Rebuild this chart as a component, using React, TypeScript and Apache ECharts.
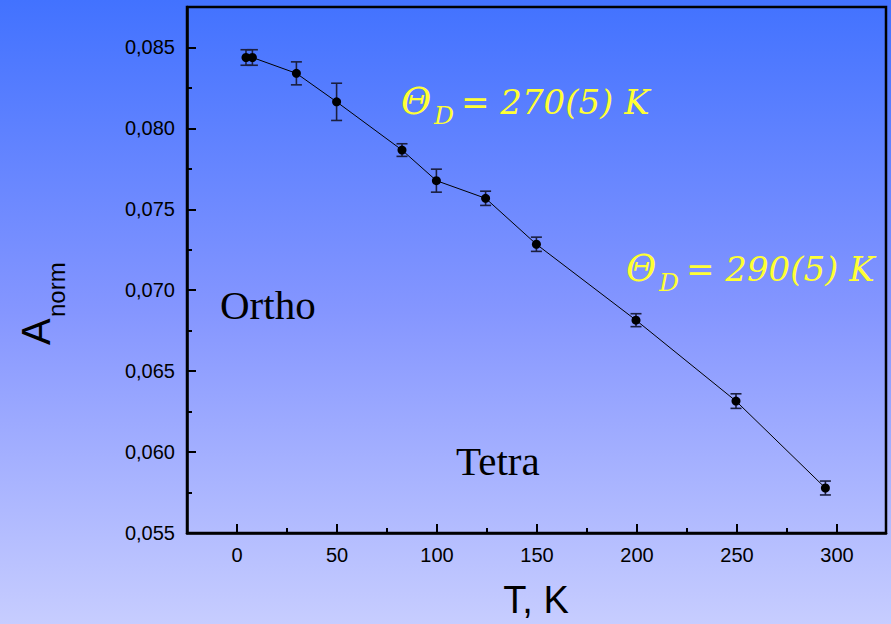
import React, { useEffect, useRef } from "react";
import * as echarts from "echarts";

// Temperature (K), normalised amplitude and its uncertainty
const temps = [4.5, 7.7, 29.7, 49.8, 82.5, 99.7, 124.3, 149.7, 199.5, 249.5, 294.2];
const aNorm = [0.08438, 0.08438, 0.0834, 0.08164, 0.07866, 0.07677, 0.07568, 0.07284, 0.06815, 0.06315, 0.05778];
const aErr = [0.00048, 0.00048, 0.00071, 0.00115, 0.00039, 0.00071, 0.00044, 0.00044, 0.0004, 0.00045, 0.00043];

const xMajor = [0, 50, 100, 150, 200, 250, 300];
const xMinor = [25, 75, 125, 175, 225, 275];
const yMajor = [0.055, 0.06, 0.065, 0.07, 0.075, 0.08, 0.085];
const yMinor = [0.0575, 0.0625, 0.0675, 0.0725, 0.0775, 0.0825];

const SANS = "Liberation Sans";
const SERIF = "Liberation Serif";
const ITALIC_SERIF = "DejaVu Serif";
const YELLOW = "#ffff33";

export default function App() {
  const ref = useRef<HTMLDivElement>(null);

  useEffect(() => {
    if (!ref.current) return;
    const chart = echarts.init(ref.current, undefined, { renderer: "svg" });

    const points = temps.map((t, i) => [t, aNorm[i]]);
    const bars = temps.map((t, i) => [t, aNorm[i] - aErr[i], aNorm[i] + aErr[i]]);

    const xBase = { type: "value", min: -25, max: 324.5, gridIndex: 0 };
    const yBase = { type: "value", min: 0.055, max: 0.0875, gridIndex: 0 };

    const italic = (size: number) => ({
      fontFamily: ITALIC_SERIF,
      fontStyle: "italic",
      fontSize: size,
      fill: YELLOW,
      textVerticalAlign: "bottom",
    });

    // Debye temperature annotation: Θ with subscript D, then the value
    const theta = (x: number, y: number, value: string) => ({
      type: "group",
      children: [
        { type: "text", x, y: y + 1, style: { text: "\u0398", ...italic(37) } },
        { type: "text", x: x + 33, y: y + 9, style: { text: "D", ...italic(25) } },
        { type: "text", x: x + 60, y, style: { text: value, ...italic(34) } },
      ],
    });

    chart.setOption({
      animation: false,
      backgroundColor: "transparent",
      grid: {
        left: 187,
        top: 7,
        right: 5,
        bottom: 91,
        show: true,
        borderColor: "#000",
        borderWidth: 2.5,
        backgroundColor: "transparent",
      },
      xAxis: [
        {
          ...xBase,
          axisLine: { show: true, onZero: false, lineStyle: { color: "#000", width: 2.5 } },
          axisTick: {
            show: true,
            inside: true,
            length: 9,
            customValues: xMajor,
            lineStyle: { color: "#000", width: 2 },
          },
          axisLabel: {
            customValues: xMajor,
            color: "#000",
            fontFamily: SANS,
            fontSize: 20,
            margin: 12,
          },
          splitLine: { show: false },
        },
        {
          ...xBase,
          position: "bottom",
          axisLine: { show: false, onZero: false },
          axisTick: {
            show: true,
            inside: true,
            length: 5,
            customValues: xMinor,
            lineStyle: { color: "#000", width: 2 },
          },
          axisLabel: { show: false },
          splitLine: { show: false },
        },
      ],
      yAxis: [
        {
          ...yBase,
          axisLine: { show: true, onZero: false, lineStyle: { color: "#000", width: 2.5 } },
          axisTick: {
            show: true,
            inside: true,
            length: 9,
            customValues: yMajor,
            lineStyle: { color: "#000", width: 2 },
          },
          axisLabel: {
            customValues: yMajor,
            color: "#000",
            fontFamily: SANS,
            fontSize: 20,
            margin: 12,
            formatter: (v: number) => v.toFixed(3).replace(".", ","),
          },
          splitLine: { show: false },
        },
        {
          ...yBase,
          position: "left",
          axisLine: { show: false, onZero: false },
          axisTick: {
            show: true,
            inside: true,
            length: 5,
            customValues: yMinor,
            lineStyle: { color: "#000", width: 2 },
          },
          axisLabel: { show: false },
          splitLine: { show: false },
        },
      ],
      series: [
        {
          type: "custom",
          xAxisIndex: 0,
          yAxisIndex: 0,
          data: bars,
          z: 2,
          renderItem: (_params: any, api: any) => {
            const x = api.value(0);
            const lo = api.coord([x, api.value(1)]);
            const hi = api.coord([x, api.value(2)]);
            const half = 5.5;
            const style = { stroke: "#1b1f3f", lineWidth: 1.6 };
            return {
              type: "group",
              children: [
                { type: "line", shape: { x1: lo[0], y1: lo[1], x2: hi[0], y2: hi[1] }, style },
                { type: "line", shape: { x1: lo[0] - half, y1: lo[1], x2: lo[0] + half, y2: lo[1] }, style },
                { type: "line", shape: { x1: hi[0] - half, y1: hi[1], x2: hi[0] + half, y2: hi[1] }, style },
              ],
            };
          },
        },
        {
          type: "line",
          xAxisIndex: 0,
          yAxisIndex: 0,
          data: points,
          z: 3,
          symbol: "circle",
          symbolSize: 9,
          itemStyle: { color: "#000" },
          lineStyle: { color: "#000", width: 1 },
        },
      ],
      graphic: [
        {
          type: "text",
          x: 220,
          y: 325,
          style: {
            text: "Ortho",
            fontFamily: SERIF,
            fontSize: 41,
            fill: "#000",
            textVerticalAlign: "bottom",
          },
        },
        {
          type: "text",
          x: 456,
          y: 481,
          style: {
            text: "Tetra",
            fontFamily: SERIF,
            fontSize: 41,
            fill: "#000",
            textVerticalAlign: "bottom",
          },
        },
        theta(401, 119, "= 270(5) K"),
        theta(626, 286, "= 290(5) K"),
        {
          type: "text",
          x: 536,
          y: 600,
          style: {
            text: "T, K",
            fontFamily: SANS,
            fontSize: 38,
            fill: "#000",
            textAlign: "center",
            textVerticalAlign: "middle",
          },
        },
        {
          type: "group",
          x: 36,
          y: 345,
          rotation: Math.PI / 2,
          children: [
            {
              type: "text",
              x: 0,
              y: 0,
              style: {
                text: "A",
                fontFamily: SANS,
                fontSize: 40,
                fill: "#000",
                textVerticalAlign: "middle",
              },
            },
            {
              type: "text",
              x: 28,
              y: 20,
              style: {
                text: "norm",
                fontFamily: SANS,
                fontSize: 24,
                fill: "#000",
                textVerticalAlign: "middle",
              },
            },
          ],
        },
      ],
    });

    return () => chart.dispose();
  }, []);

  return (
    <div
      ref={ref}
      style={{
        position: "fixed",
        left: 0,
        top: 0,
        width: 891,
        height: 624,
        background: "linear-gradient(to bottom, #4272ff 0%, #8596ff 50%, #c7cdff 100%)",
      }}
    />
  );
}
